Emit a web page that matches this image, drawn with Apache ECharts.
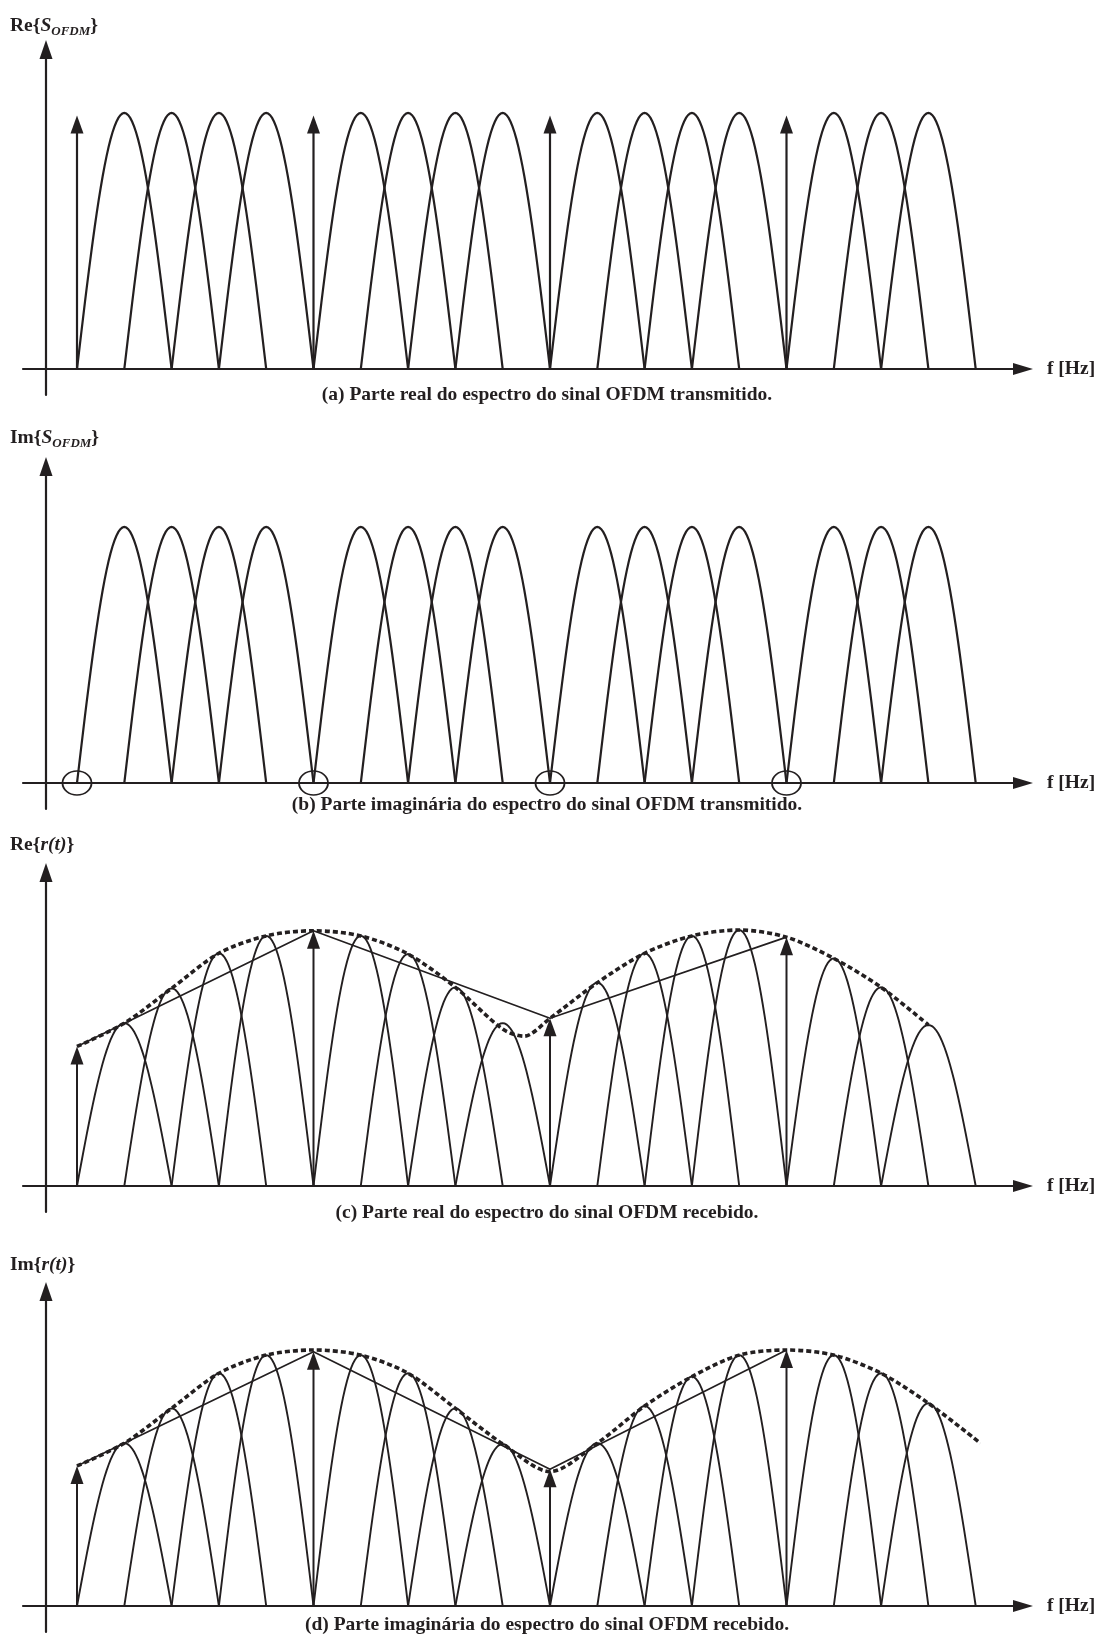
<!DOCTYPE html>
<html><head><meta charset="utf-8">
<script src="https://cdn.jsdelivr.net/npm/echarts@6/dist/echarts.min.js"></script>
<style>html,body{margin:0;padding:0;background:#fff}#c{width:1114px;height:1639px}</style>
</head><body><div id="c"></div><script>
// ---------- DATA ----------
const dataCarriers = [1,2,3,4,6,7,8,9,11,12,13,14,16,17,18];
const pilotCarriers = [0,5,10,15];

// (a) real part, transmitted
const reTxData   = [1,1,1,1, 1,1,1,1, 1,1,1,1, 1,1,1];
const reTxPilots = [0.99,0.99,0.99,0.99];
// (b) imaginary part, transmitted (pilots are zero -> circled)
const imTxData   = [1,1,1,1, 1,1,1,1, 1,1,1,1, 1,1,1];
const imTxPilots = [0,0,0,0];
// (c) real part, received
const reRxData   = [0.636,0.772,0.909,0.977, 0.977,0.906,0.776,0.636, 0.794,0.909,0.977,1.0, 0.889,0.776,0.629];
const reRxPilots = [0.545,0.997,0.655,0.972];
const reRxEnvX   = [0,1,2,3,4,5,6,7,8,9,9.45,10,11,12,13,14,15,16,17,18];
const reRxEnvY   = [0.545,0.636,0.772,0.909,0.977,0.997,0.977,0.906,0.776,0.613,0.585,0.655,0.794,0.909,0.977,1.0,0.972,0.889,0.776,0.629];
// (d) imaginary part, received
const imRxData   = [0.636,0.772,0.909,0.98, 0.98,0.909,0.772,0.633, 0.636,0.781,0.896,0.98, 0.98,0.909,0.792];
const imRxPilots = [0.547,0.993,0.534,1.0];
const imRxEnvX   = [0,1,2,3,4,5,6,7,8,9,10,11,12,13,14,15,16,17,18,19.1];
const imRxEnvY   = [0.547,0.636,0.772,0.909,0.98,1.0,0.98,0.909,0.772,0.633,0.525,0.636,0.781,0.896,0.98,1.0,0.98,0.909,0.792,0.636];

const axisNames = ['Re{{i|S}{sub|OFDM}}', 'Im{{i|S}{sub|OFDM}}', 'Re{{i|r(t)}}', 'Im{{i|r(t)}}'];
const xAxisName = 'f [Hz]';
const captions = [
  '(a) Parte real do espectro do sinal OFDM transmitido.',
  '(b) Parte imaginária do espectro do sinal OFDM transmitido.',
  '(c) Parte real do espectro do sinal OFDM recebido.',
  '(d) Parte imaginária do espectro do sinal OFDM recebido.'
];

// ---------- LAYOUT ----------
const INK = '#231f20';
const FONT = '"Liberation Serif", "Times New Roman", serif';
const GRID_L = 23, GRID_R = 1023, YAXIS_X = 46, P0_X = 77, DX = 47.3, PX_PER_UNIT = 256;
const panels = [
  {B: 369,  T: 40,   label: 26,   cap: 395},
  {B: 783,  T: 457,  label: 438,  cap: 805},
  {B: 1186, T: 863,  label: 845,  cap: 1213},
  {B: 1606, T: 1282, label: 1265, cap: 1625}
];
const XMIN = (GRID_L - P0_X) / DX, XMAX = (GRID_R - P0_X) / DX;

const grids = [], xAxes = [], yAxes = [], series = [], titles = [], graphics = [];

function lobeSeries(i, carriers, amps, lw) {
  return {
    type: 'custom', xAxisIndex: i, yAxisIndex: i, silent: true, clip: false, z: 2,
    data: carriers.map((k, j) => [k, amps[j]]),
    renderItem: function (params, api) {
      const k = api.value(0), a = api.value(1);
      const pts = [];
      for (let s = 0; s <= 48; s++) {
        const t = -1 + s / 24;
        pts.push(api.coord([k + t, a * Math.cos(Math.PI / 2 * t)]));
      }
      return {type: 'polyline', shape: {points: pts}, style: {stroke: INK, lineWidth: lw, fill: 'none'}};
    }
  };
}
function pilotSeries(i, carriers, amps, lw) {
  return {
    type: 'custom', xAxisIndex: i, yAxisIndex: i, silent: true, clip: false, z: 4,
    data: carriers.map((k, j) => [k, amps[j]]),
    renderItem: function (params, api) {
      const base = api.coord([api.value(0), 0]);
      const tip = api.coord([api.value(0), api.value(1)]);
      const hl = 18, hw = 13;
      return {type: 'group', children: [
        {type: 'line', shape: {x1: base[0], y1: base[1], x2: tip[0], y2: tip[1] + hl - 1}, style: {stroke: INK, lineWidth: lw}},
        {type: 'polygon', shape: {points: [[tip[0], tip[1]], [tip[0] - hw / 2, tip[1] + hl], [tip[0] + hw / 2, tip[1] + hl]]}, style: {fill: INK}}
      ]};
    }
  };
}

panels.forEach((p, i) => {
  const top = p.T + 9.5, bottom = p.B + 26;
  grids.push({left: GRID_L, width: GRID_R - GRID_L, top: top, height: bottom - top});
  xAxes.push({
    type: 'value', gridIndex: i, min: XMIN, max: XMAX,
    axisLine: {show: true, onZero: true, lineStyle: {color: INK, width: 2.2}, symbol: ['none', 'triangle'], symbolSize: [12, 20]},
    axisTick: {show: false}, axisLabel: {show: false}, splitLine: {show: false},
    name: xAxisName, nameLocation: 'end', nameGap: 24,
    nameTextStyle: {fontFamily: FONT, fontWeight: 'bold', fontSize: 19.5, color: INK, align: 'left', verticalAlign: 'middle'}
  });
  yAxes.push({
    type: 'value', gridIndex: i, min: -26 / PX_PER_UNIT, max: (p.B - top) / PX_PER_UNIT,
    offset: -(YAXIS_X - GRID_L),
    axisLine: {show: true, onZero: false, lineStyle: {color: INK, width: 2.2}, symbol: ['none', 'triangle'], symbolSize: [13, 19]},
    axisTick: {show: false}, axisLabel: {show: false}, splitLine: {show: false}
  });
  titles.push({
    text: axisNames[i], left: 10, top: p.label - 12, padding: 0,
    textStyle: {fontFamily: FONT, fontWeight: 'bold', fontSize: 19.5, color: INK, lineHeight: 24,
      rich: {
        i: {fontFamily: FONT, fontWeight: 'bold', fontStyle: 'italic', fontSize: 19.5, color: INK, lineHeight: 24},
        sub: {fontFamily: FONT, fontWeight: 'bold', fontStyle: 'italic', fontSize: 13, color: INK, lineHeight: 14, verticalAlign: 'bottom'}
      }}
  });
  graphics.push({
    type: 'text', x: 547, y: p.cap, silent: true,
    style: {text: captions[i], font: 'bold 19.5px ' + FONT, fill: INK,
      align: 'center', verticalAlign: 'middle', textAlign: 'center', textVerticalAlign: 'middle'}
  });
});

// (a)
series.push(lobeSeries(0, dataCarriers, reTxData, 2.2));
series.push(pilotSeries(0, pilotCarriers, reTxPilots, 2.2));
// (b)
series.push(lobeSeries(1, dataCarriers, imTxData, 2.2));
series.push({
  type: 'scatter', xAxisIndex: 1, yAxisIndex: 1, silent: true, z: 5,
  data: pilotCarriers.map((k, j) => [k, imTxPilots[j]]),
  symbol: 'circle', symbolSize: [29, 24],
  itemStyle: {color: 'rgba(0,0,0,0)', borderColor: INK, borderWidth: 1.7, opacity: 1}
});
// (c)
series.push(lobeSeries(2, dataCarriers, reRxData, 1.9));
series.push(pilotSeries(2, pilotCarriers, reRxPilots, 2));
series.push({type: 'line', xAxisIndex: 2, yAxisIndex: 2, silent: true, z: 3, symbol: 'none',
  data: pilotCarriers.map((k, j) => [k, reRxPilots[j]]), lineStyle: {color: INK, width: 1.7}});
series.push({type: 'line', xAxisIndex: 2, yAxisIndex: 2, silent: true, z: 3, symbol: 'none', smooth: 0.3,
  data: reRxEnvX.map((x, j) => [x, reRxEnvY[j]]), lineStyle: {color: INK, width: 3.6, type: [5, 3]}});
// (d)
series.push(lobeSeries(3, dataCarriers, imRxData, 1.9));
series.push(pilotSeries(3, pilotCarriers, imRxPilots, 2));
series.push({type: 'line', xAxisIndex: 3, yAxisIndex: 3, silent: true, z: 3, symbol: 'none',
  data: pilotCarriers.map((k, j) => [k, imRxPilots[j]]), lineStyle: {color: INK, width: 1.7}});
series.push({type: 'line', xAxisIndex: 3, yAxisIndex: 3, silent: true, z: 3, symbol: 'none', smooth: 0.3,
  data: imRxEnvX.map((x, j) => [x, imRxEnvY[j]]), lineStyle: {color: INK, width: 3.6, type: [5, 3]}});

const chart = echarts.init(document.getElementById('c'), null, {renderer: 'canvas'});
chart.setOption({
  animation: false,
  backgroundColor: '#ffffff',
  title: titles,
  grid: grids,
  xAxis: xAxes,
  yAxis: yAxes,
  series: series,
  graphic: graphics
});
</script></body></html>
